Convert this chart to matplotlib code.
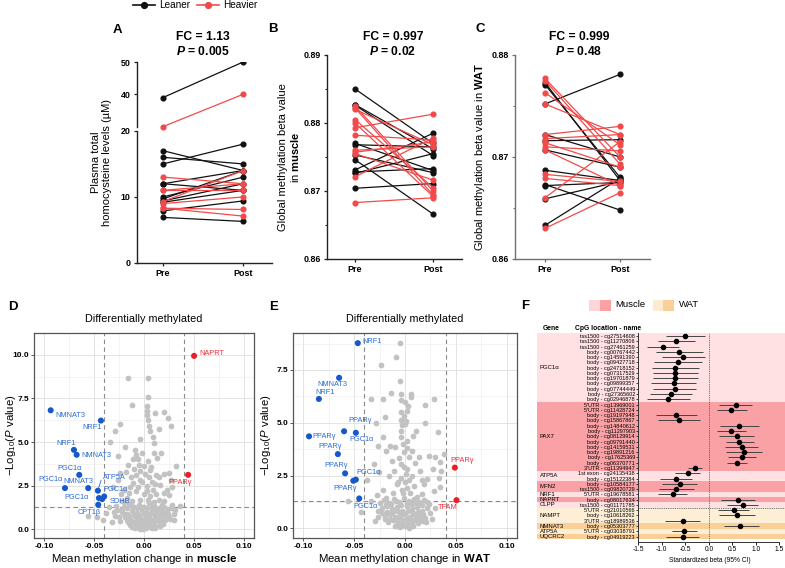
import numpy as np
import matplotlib
matplotlib.use('Agg')
import matplotlib.pyplot as plt
from matplotlib.lines import Line2D
from matplotlib.patches import Rectangle
from matplotlib.transforms import blended_transform_factory

plt.rcParams['font.family'] = ['Liberation Sans', 'DejaVu Sans']
plt.rcParams['mathtext.fontset'] = 'custom'
plt.rcParams['mathtext.rm'] = 'Liberation Sans'
plt.rcParams['mathtext.it'] = 'Liberation Sans:italic'
plt.rcParams['mathtext.bf'] = 'Liberation Sans:bold'
plt.rcParams['mathtext.bfit'] = 'Liberation Sans:italic:bold'

# ---------------- data ----------------
# A: plasma total homocysteine (uM), paired pre/post
hcy_lean_pre = [39, 17, 16, 15, 12, 12, 10, 9.7, 9.4, 9.2, 7.9, 6.9]
hcy_lean_post = [50, 14, 15, 18, 14, 11, 13, 14, 12, 11, 9.4, 6.3]
hcy_heavy_pre = [30, 13, 11, 11, 9.3, 9.0, 8.3, 8.3]
hcy_heavy_post = [40, 12, 12, 11, 14, 10, 8.1, 7.1]

# B: global methylation in muscle
mus_lean_pre = [0.8850, 0.8827, 0.8826, 0.8770, 0.8768, 0.8753, 0.8746, 0.8731, 0.8728, 0.8726, 0.8704]
mus_lean_post = [0.8770, 0.8762, 0.8752, 0.8730, 0.8765, 0.8727, 0.8666, 0.8785, 0.8733, 0.8755, 0.8711]
mus_heavy_pre = [0.8825, 0.8822, 0.8820, 0.8805, 0.8800, 0.8793, 0.8782, 0.8760, 0.8757, 0.8755, 0.8721, 0.8683]
mus_heavy_post = [0.8700, 0.8694, 0.8768, 0.8705, 0.8692, 0.8813, 0.8775, 0.8765, 0.8772, 0.8716, 0.8778, 0.8690]

# C: global methylation in WAT
wat_lean_pre = [0.8752, 0.8773, 0.8771, 0.8722, 0.8716, 0.8707, 0.8687, 0.8673, 0.8672, 0.8659, 0.8633]
wat_lean_post = [0.8781, 0.8677, 0.8680, 0.8700, 0.8717, 0.8690, 0.8677, 0.8648, 0.8675, 0.8676, 0.8679]
wat_heavy_pre = [0.8777, 0.8775, 0.8763, 0.8752, 0.8722, 0.8718, 0.8714, 0.8710, 0.8707, 0.8683, 0.8679, 0.8660, 0.8630]
wat_heavy_post = [0.8700, 0.8693, 0.8712, 0.8722, 0.8730, 0.8722, 0.8690, 0.8706, 0.8672, 0.8676, 0.8672, 0.8715, 0.8665]

# D: volcano muscle (mean change, -log10 P)
d_other = np.array([
    (-0.0166, 8.66), (0.0034, 8.66), (0.0034, 7.59), (-0.0123, 7.12), (0.0024, 7.08),
    (0.0027, 6.80), (0.0030, 6.55), (0.0107, 6.68), (0.0197, 6.73), (0.0240, 6.37),
    (0.0264, 5.93), (-0.0237, 6.02), (-0.0287, 5.61), (0.0040, 6.25), (0.0047, 5.93),
    (0.0060, 5.66), (0.0149, 5.75), (-0.0343, 5.00), (-0.0090, 4.55), (-0.0260, 4.20),
    (0.0097, 4.96), (0.0097, 4.40), (-0.0083, 4.27), (-0.0063, 4.02), (-0.0160, 3.70),
    (0.0197, 3.16), (0.0323, 3.60), (0.0264, 2.80), (-0.0183, 3.30), (-0.0103, 3.45),
    (-0.0043, 3.35), (0.0007, 3.15), (0.0057, 3.40), (-0.0260, 2.80), (-0.0310, 2.43),
    (-0.0200, 2.27), (-0.0110, 2.65), (-0.0043, 2.85), (0.0024, 2.50), (0.0090, 2.27),
    (0.0157, 2.55), (0.0224, 2.27), (-0.0220, 1.62), (-0.0283, 1.35), (-0.0350, 1.25),
    (0.0197, 1.62), (0.0247, 1.98), (0.0357, 1.36), (0.0310, 1.10), (0.0167, 1.19),
    (-0.0560, 0.78), (-0.0477, 0.69), (-0.0410, 0.51), (-0.0383, 0.96), (-0.0150, 2.10),
    (-0.0080, 2.20), (0.0000, 2.00), (0.0060, 1.90), (0.0120, 2.00), (-0.0170, 1.80),
    (0.0150, 1.70), (-0.0130, 3.00), (0.0120, 3.10), (-0.0050, 3.70), (0.0000, 3.60),
    (0.0040, 3.90), (-0.0020, 4.40), (0.0070, 3.55), (0.0080, 2.70), (-0.0060, 2.40),
    (0.0030, 2.20), (0.0280, 2.40), (0.0280, 1.40), (0.0230, 1.05), (-0.0300, 1.00),
    (-0.0250, 0.70), (-0.0320, 0.40), (0.0260, 0.60), (0.0300, 0.90), (0.0165, 4.35),
    (-0.020, 1.30), (-0.015, 1.45), (-0.010, 1.25), (-0.005, 1.40), (0.000, 1.30),
    (0.005, 1.50), (0.010, 1.35), (0.015, 1.20), (0.020, 1.30), (-0.022, 1.00),
    (-0.017, 0.90), (-0.012, 1.05), (-0.007, 0.95), (-0.002, 1.10), (0.003, 0.95),
    (0.008, 1.05), (0.013, 0.90), (0.018, 1.00), (-0.019, 0.70), (-0.014, 0.60),
    (-0.009, 0.75), (-0.004, 0.65), (0.001, 0.80), (0.006, 0.60), (0.011, 0.70),
    (0.016, 0.65), (0.021, 0.55), (-0.016, 0.40), (-0.011, 0.35), (-0.006, 0.45),
    (-0.001, 0.30), (0.004, 0.40), (0.009, 0.35), (0.014, 0.45), (0.019, 0.30),
    (-0.012, 0.15), (-0.007, 0.20), (-0.002, 0.10), (0.002, 0.05), (0.006, 0.15),
    (0.011, 0.20), (-0.004, 0.02), (0.000, 0.25), (0.008, 0.05), (-0.009, 0.05),
    (-0.012, 1.60), (-0.004, 1.70), (0.004, 1.65), (0.010, 1.55), (-0.020, 1.55),
    (0.000, 0.55), (-0.024, 0.45), (0.024, 0.85),
    (-0.0225, 1.15), (-0.0175, 1.20), (-0.0125, 1.35), (-0.0075, 1.20), (-0.0025, 1.25),
    (0.0025, 1.20), (0.0075, 1.25), (0.0125, 1.10), (0.0175, 1.40), (0.0225, 1.15),
    (-0.0205, 0.85), (-0.0155, 0.75), (-0.0105, 0.90), (-0.0055, 0.80), (-0.0005, 0.95),
    (0.0045, 0.80), (0.0095, 0.85), (0.0145, 0.75), (0.0195, 0.80), (0.0245, 0.70),
    (-0.0175, 0.55), (-0.0125, 0.50), (-0.0075, 0.55), (-0.0025, 0.50), (0.0025, 0.60),
    (0.0075, 0.50), (0.0125, 0.55), (0.0175, 0.45), (-0.0145, 0.25), (-0.0095, 0.25),
    (-0.0045, 0.20), (0.0005, 0.40), (0.0055, 0.25), (0.0105, 0.10), (0.0155, 0.20),
    (-0.0015, 0.02), (0.0025, 0.15), (-0.0270, 1.10), (0.0270, 1.20), (-0.0290, 0.75),
    (0.0300, 0.55), (-0.0230, 2.00), (0.0200, 2.10), (-0.0140, 2.40), (0.0110, 2.60),
    (-0.0020, 2.70), (0.0050, 3.00), (-0.0080, 3.10), (0.0150, 3.00), (-0.0240, 3.20),
    (0.0250, 3.25), (-0.0110, 4.00), (0.0130, 4.10), (-0.0190, 4.70), (0.0090, 5.30),
    (-0.0040, 5.20),
])
d_hit_x = [-0.0936, -0.0433, -0.0703, -0.0676, -0.0650, -0.0793, -0.0560,
           -0.0463, -0.0453, -0.0400, -0.0420, -0.0460, 0.0500, 0.0440]
d_hit_y = [6.82, 6.23, 4.55, 4.27, 3.12, 2.36, 2.36, 2.21, 1.79, 1.88, 1.73, 1.41, 9.94, 3.12]
d_hit_gene = ['NMNAT3', 'NRF1', 'NRF1', 'NMNAT3', 'PGC1α', 'PGC1α', 'NMNAT3',
              'ATP5A', 'PGC1α', 'PGC1α', 'SDHB', 'CPT1β', 'NAPRT', 'PPARγ']
d_hit_up = [False] * 12 + [True, True]
d_lab_pos = [(-0.0738, 6.52), (-0.0517, 5.84), (-0.0783, 4.94), (-0.0477, 4.23),
             (-0.0750, 3.48), (-0.0936, 2.86), (-0.0656, 2.75), (-0.0300, 2.98),
             (-0.0676, 1.80), (-0.0290, 2.27), (-0.0243, 1.59), (-0.0550, 0.98),
             (0.0674, 10.07), (0.0357, 2.69)]

# E: volcano WAT
e_other = np.array([
    (-0.0048, 8.77), (-0.0090, 8.13), (-0.0235, 7.75), (-0.0048, 6.97), (-0.0139, 6.42),
    (-0.0338, 6.13), (-0.0219, 6.13), (-0.0035, 6.37), (0.0055, 6.37), (-0.0035, 6.06),
    (0.0055, 6.20), (0.0281, 6.13), (0.0200, 5.86), (-0.0197, 5.26), (-0.0284, 4.98),
    (-0.0042, 5.50), (-0.0010, 5.30), (0.0020, 5.55), (-0.0042, 5.15), (0.0000, 4.95),
    (0.0110, 4.63), (0.0200, 4.98), (0.0329, 4.55), (-0.0219, 4.32), (-0.0042, 4.63),
    (-0.0042, 4.32), (0.0023, 4.16), (-0.0100, 3.85), (-0.0150, 3.92), (-0.0268, 3.92),
    (-0.0187, 3.68), (0.0071, 3.68), (0.0136, 3.36), (0.0232, 3.44), (0.0297, 3.40),
    (0.0345, 3.13), (0.0275, 2.83), (0.0384, 3.52), (0.0355, 2.73), (-0.0307, 3.05),
    (-0.0252, 2.66), (-0.0155, 2.50), (-0.0106, 2.73), (-0.0042, 3.05), (0.0023, 2.83),
    (0.0071, 2.50), (0.0152, 2.73), (0.0216, 2.34), (-0.0371, 2.29), (-0.0564, 1.28),
    (-0.0429, 0.76), (-0.0300, 0.37), (-0.0268, 0.84), (0.0281, 1.78), (0.0345, 1.95),
    (0.0232, 1.18), (0.0297, 0.95), (0.0168, 1.65), (-0.0187, 1.42), (-0.0122, 1.66),
    (-0.0219, 1.82), (-0.0080, 2.10), (0.0000, 2.20), (0.0090, 2.00), (-0.0030, 1.80),
    (0.0050, 1.70), (0.0120, 1.50), (0.0000, 6.00), (0.0030, 5.80), (-0.0020, 4.00),
    (0.0040, 3.40), (-0.0060, 3.35), (0.0080, 4.40), (0.0330, 2.40), (0.0190, 2.10),
    (-0.0330, 1.30), (-0.0280, 1.60),
    (-0.021, 1.35), (-0.016, 1.20), (-0.011, 1.40), (-0.006, 1.25), (-0.001, 1.45),
    (0.004, 1.30), (0.009, 1.40), (0.014, 1.25), (0.019, 1.35), (-0.023, 0.95),
    (-0.018, 1.05), (-0.013, 0.90), (-0.008, 1.00), (-0.003, 0.85), (0.002, 1.05),
    (0.007, 0.90), (0.012, 1.00), (0.017, 0.85), (0.022, 0.95), (-0.020, 0.60),
    (-0.015, 0.70), (-0.010, 0.55), (-0.005, 0.65), (0.000, 0.70), (0.005, 0.55),
    (0.010, 0.65), (0.015, 0.60), (0.020, 0.50), (-0.017, 0.30), (-0.012, 0.40),
    (-0.007, 0.25), (-0.002, 0.40), (0.003, 0.30), (0.008, 0.35), (0.013, 0.25),
    (0.018, 0.35), (-0.010, 0.10), (-0.005, 0.05), (0.000, 0.12), (0.004, 0.03),
    (0.008, 0.12), (-0.002, 1.70), (0.002, 1.90), (-0.004, 2.40), (0.001, 2.60),
    (-0.0185, 1.10), (-0.0135, 1.15), (-0.0085, 1.30), (-0.0035, 1.10), (0.0015, 1.20),
    (0.0065, 1.15), (0.0115, 1.20), (0.0165, 1.10), (0.0215, 1.25), (-0.0245, 1.20),
    (-0.0175, 0.80), (-0.0125, 0.75), (-0.0075, 0.85), (-0.0025, 0.70), (0.0025, 0.85),
    (0.0075, 0.75), (0.0125, 0.80), (0.0175, 0.70), (0.0245, 0.75), (-0.0225, 0.75),
    (-0.0145, 0.45), (-0.0095, 0.40), (-0.0045, 0.50), (0.0005, 0.45), (0.0055, 0.40),
    (0.0105, 0.45), (0.0155, 0.40), (-0.0195, 0.45), (0.0205, 0.30), (-0.0075, 0.10),
    (-0.0025, 0.20), (0.0025, 0.15), (0.0065, 0.25), (-0.0270, 0.55), (0.0270, 0.45),
    (-0.0010, 3.60), (0.0020, 3.80), (-0.0030, 4.90), (0.0010, 5.10), (-0.0010, 2.90),
    (0.0040, 2.30), (-0.0070, 2.20), (0.0100, 3.10), (-0.0130, 3.20), (0.0170, 2.30),
])
e_hit_x = [-0.0465, -0.0649, -0.0848, -0.0600, -0.0484, -0.0945, -0.0661,
           -0.0590, -0.0484, -0.0509, -0.0451, 0.0491, 0.0507]
e_hit_y = [8.77, 7.13, 6.13, 4.60, 4.53, 4.36, 3.52, 2.61, 2.31, 2.26, 1.42, 2.88, 1.34]
e_hit_gene = ['NRF1', 'NMNAT3', 'NRF1', 'PPARγ', 'PGC1α', 'PPARγ', 'PPARγ',
              'PPARγ', 'PGC1α', 'PPARγ', 'PGC1α', 'PPARγ', 'TFAM']
e_hit_up = [False] * 11 + [True, True]
e_lab_pos = [(-0.0325, 8.87), (-0.0713, 6.81), (-0.0784, 6.45), (-0.0442, 5.11),
             (-0.0429, 4.19), (-0.0800, 4.36), (-0.0742, 3.87), (-0.0674, 3.00),
             (-0.0354, 2.64), (-0.0590, 1.89), (-0.0390, 1.02), (0.0565, 3.22),
             (0.0416, 0.97)]

# F: forest plot
f_genes = ['PGC1α', 'PAX7', 'ATP5A', 'MFN2', 'NRF1', 'NAPRT', 'CLPP',
           'NAMPT', 'NMNAT3', 'ATP5A', 'UQCRC2']
f_gene_rows = [13, 13, 2, 2, 1, 1, 1, 3, 1, 1, 1]
f_gene_tissue = ['Muscle'] * 7 + ['WAT'] * 4
f_cpg = [
    'tss1500 - cg27514608', 'tss1500 - cg11270806', 'tss1500 - cg27461259',
    'body - cg00767442', 'body - cg14591390', 'body - cg09427718', 'body - cg24718152',
    'body - cg07317529', 'body - cg19701879', 'body - cg09899357', 'body - cg07744449',
    'body - cg27365602', 'body - cg02946878',
    "5'UTR - cg13969001", "5'UTR - cg11428724", 'body - cg19197948', 'body - cg15867867',
    'body - cg14840612', 'body - cg11297903', 'body - cg08129914', 'body - cg09791440',
    'body - cg14159531', 'body - cg19891216', 'body - cg17625369', 'body - cg06370771',
    "3'UTR - cg11394947",
    '1st exon - cg24135438', 'body - cg15122384',
    'body - cg10584177', 'tss1500 - cg09820729',
    "5'UTR - cg19678581",
    'body - cg08017634',
    'tss1500 - cg01171785',
    "5'UTR - cg21010566", 'body - cg10618262', "3'UTR - cg18989536",
    'body - cg05303777',
    "5'UTR - cg03038791",
    'body - cg04919223',
]
f_beta = [-0.51, -0.70, -0.98, -0.63, -0.55, -0.65, -0.71, -0.71, -0.71, -0.75, -0.72, -0.81, -0.87,
          0.57, 0.48, -0.70, -0.64, 0.64, 0.47, 0.60, 0.64, 0.70, 0.75, 0.71, 0.60, -0.30,
          -0.45, -0.70, -0.62, -0.70, -0.77, 0.61, 0.72,
          0.53, 0.60, -0.55, 0.67, -0.52, -0.55]
f_lo = [-0.92, -1.08, -1.31, -1.13, -0.99, -1.17, -1.21, -1.19, -1.19, -1.22, -1.18, -1.26, -1.31,
        0.21, 0.18, -1.13, -1.08, 0.23, 0.18, 0.21, 0.37, 0.35, 0.37, 0.40, 0.39, -0.44,
        -0.71, -1.03, -0.99, -1.06, -1.08, 0.25, 0.39,
        0.20, 0.21, -0.94, 0.32, -0.78, -0.92]
f_hi = [-0.09, -0.30, -0.64, -0.13, -0.09, -0.14, -0.21, -0.23, -0.23, -0.27, -0.27, -0.35, -0.41,
        0.92, 0.82, -0.25, -0.18, 1.06, 0.78, 0.96, 0.96, 1.05, 1.13, 1.01, 0.82, -0.14,
        -0.18, -0.35, -0.25, -0.32, -0.46, 0.98, 1.05,
        0.85, 0.98, -0.18, 1.06, -0.25, -0.21]

# ---------------- layout helpers ----------------
W, H = 785, 568
BLACK = '#111111'
RED = '#f24a4a'
BLUE_PT = '#1558c9'
BLUE_TX = '#2b6bd8'
RED_PT = '#ee1c25'
GREY_PT = '#c2c2c2'


def px_rect(l, t, r, b):
    return [l / W, 1 - b / H, (r - l) / W, (b - t) / H]


def fx(x):
    return x / W


def fy(y):
    return 1 - y / H


fig = plt.figure(figsize=(W / 100, H / 100), dpi=100)


def bold_ticks(ax):
    for lbl in ax.get_xticklabels() + ax.get_yticklabels():
        lbl.set_fontweight('bold')


def paired(ax, lp, lq, hp, hq, xlim, spine_col):
    for a, b in zip(lp, lq):
        ax.plot([0, 1], [a, b], color=BLACK, lw=0.9, marker='o', ms=3.4, zorder=3)
    for a, b in zip(hp, hq):
        ax.plot([0, 1], [a, b], color=RED, lw=0.9, marker='o', ms=3.4, zorder=3)
    ax.set_xlim(*xlim)
    ax.set_xticks([0, 1], ['Pre', 'Post'])
    ax.spines[['top', 'right']].set_visible(False)
    for s in ('left', 'bottom'):
        ax.spines[s].set_color(spine_col)
        ax.spines[s].set_linewidth(1.0)
    ax.tick_params(labelsize=6.4, length=2.5, width=0.9, color=spine_col, pad=2)
    ax.tick_params(which='minor', length=1.8, width=0.8, color=spine_col)
    ax.patch.set_alpha(0)


# ---------------- A ----------------
def brk_fwd(y):
    y = np.asarray(y, dtype=float)
    return np.where(y <= 20, y, np.where(y <= 30, 20 + (y - 20) * 0.065, 20.65 + (y - 30) * 0.489))


def brk_inv(t):
    t = np.asarray(t, dtype=float)
    return np.where(t <= 20, t, np.where(t <= 20.65, 20 + (t - 20) / 0.065, 30 + (t - 20.65) / 0.489))


axA = fig.add_axes(px_rect(137, 62, 272, 263))
axA.set_yscale('function', functions=(brk_fwd, brk_inv))
axA.set_ylim(0, 50)
paired(axA, hcy_lean_pre, hcy_lean_post, hcy_heavy_pre, hcy_heavy_post, (-0.325, 1.36), '#222222')
axA.set_yticks([0, 10, 20, 40, 50], ['0', '10', '20', '40', '50'])
axA.yaxis.set_minor_locator(matplotlib.ticker.NullLocator())
axA.spines['left'].set_bounds(0, 20)
axA.plot([0, 0], [30, 50], transform=axA.get_yaxis_transform(), color='#222222', lw=1.0, clip_on=False)
axA.set_ylabel('Plasma total\nhomocysteine levels (µM)', fontsize=8, linespacing=1.1)
axA.yaxis.set_label_coords(-0.185, 0.5)
bold_ticks(axA)

# ---------------- B ----------------
axB = fig.add_axes(px_rect(327, 55, 462, 259))
paired(axB, mus_lean_pre, mus_lean_post, mus_heavy_pre, mus_heavy_post, (-0.36, 1.37), '#222222')
axB.set_ylim(0.86, 0.89)
axB.set_yticks([0.86, 0.87, 0.88, 0.89], ['0.86', '0.87', '0.88', '0.89'])
axB.set_yticks([0.865, 0.875, 0.885], minor=True)
axB.set_ylabel('Global methylation beta value\nin $\\mathbf{muscle}$', fontsize=8, linespacing=1.1)
axB.yaxis.set_label_coords(-0.19, 0.5)
bold_ticks(axB)

# ---------------- C ----------------
axC = fig.add_axes(px_rect(515, 55, 650, 259))
paired(axC, wat_lean_pre, wat_lean_post, wat_heavy_pre, wat_heavy_post, (-0.4, 1.4), '#707070')
axC.set_ylim(0.86, 0.88)
axC.set_yticks([0.86, 0.87, 0.88], ['0.86', '0.87', '0.88'])
axC.set_yticks([0.865, 0.875], minor=True)
axC.set_ylabel('Global methylation beta value in $\\mathbf{WAT}$', fontsize=8)
axC.yaxis.set_label_coords(-0.205, 0.5)
bold_ticks(axC)

for xc, fc, p in [(203, '1.13', '0.005'), (393, '0.997', '0.02'), (579, '0.999', '0.48')]:
    fig.text(fx(xc), fy(37.5), 'FC = ' + fc, ha='center', va='center', fontsize=8.7, fontweight='bold')
    fig.text(fx(xc), fy(51.5), '$\\mathbfit{P}$ = ' + p, ha='center', va='center', fontsize=8.7,
             fontweight='bold')

for lab, xl, yl in [('A', 117, 30), ('B', 273, 29), ('C', 480, 29), ('D', 13, 307), ('E', 274, 307),
                    ('F', 525, 306)]:
    fig.text(fx(xl), fy(yl), lab, ha='center', va='center', fontsize=9.5, fontweight='bold')

handles = [Line2D([], [], color=BLACK, marker='o', ms=4.2, lw=1.2),
           Line2D([], [], color=RED, marker='o', ms=4.2, lw=1.2)]
fig.legend(handles, ['Leaner', 'Heavier'], loc='center', bbox_to_anchor=(fx(195), fy(5.5)), ncol=2,
           frameon=False, fontsize=7.2, handlelength=2.2, handletextpad=0.4, columnspacing=0.7,
           borderaxespad=0, borderpad=0)


# ---------------- D / E volcano ----------------
def volcano(ax, other, hx, hy, hgene, hup, labpos, ylim, yticks, tissue, xlab_y, ylab_x):
    ax.set_xlim(-0.11, 0.11)
    ax.set_ylim(*ylim)
    ax.set_xticks([-0.10, -0.05, 0.0, 0.05, 0.10], ['-0.10', '-0.05', '0.00', '0.05', '0.10'])
    ax.set_xticks([-0.075, -0.025, 0.025, 0.075], minor=True)
    ax.set_yticks(yticks, ['%.1f' % v for v in yticks])
    ax.set_yticks([v + 1.25 for v in yticks], minor=True)
    ax.grid(which='major', color='#e3e3e3', lw=0.7)
    ax.grid(which='minor', color='#efefef', lw=0.45)
    ax.set_axisbelow(True)
    for s in ax.spines.values():
        s.set_color('#555555')
        s.set_linewidth(0.9)
    ax.tick_params(labelsize=6.0, length=2.2, width=0.7, color='#555555', pad=1.5)
    ax.tick_params(which='minor', length=0)
    ax.scatter(other[:, 0], other[:, 1], s=17, color=GREY_PT, lw=0, zorder=2)
    for xv in (-0.04, 0.04):
        ax.axvline(xv, color='#8a8a8a', lw=0.8, ls=(0, (4, 3)), zorder=1.5)
    ax.axhline(-np.log10(0.05), color='#8a8a8a', lw=0.8, ls=(0, (4, 3)), zorder=1.5)
    cols = [RED_PT if u else BLUE_PT for u in hup]
    ax.scatter(hx, hy, s=19, color=cols, lw=0, zorder=4)
    for g, u, (lx, ly) in zip(hgene, hup, labpos):
        ax.text(lx, ly, g, color=('#f0303a' if u else BLUE_TX), fontsize=5.3, ha='center', va='center',
                zorder=5)
    ax.text(0.5, 1.067, 'Differentially methylated', transform=ax.transAxes, ha='center', va='center',
            fontsize=7.8)
    ax.set_xlabel('Mean methylation change in $\\mathbf{%s}$' % tissue, fontsize=8.2)
    ax.xaxis.set_label_coords(0.5, xlab_y)
    ax.set_ylabel('$-$Log$_{10}$($\\mathit{P}$ value)', fontsize=8.2)
    ax.yaxis.set_label_coords(ylab_x, 0.5)
    bold_ticks(ax)


axD = fig.add_axes(px_rect(34.3, 333, 254, 538))
volcano(axD, d_other, d_hit_x, d_hit_y, d_hit_gene, d_hit_up, d_lab_pos, (-0.5, 10.5),
        [0.0, 2.5, 5.0, 7.5, 10.0], 'muscle', -0.068, -0.074)
axD.plot([-0.0458, -0.0432], [2.33, 2.80], color=BLUE_TX, lw=0.6, zorder=5)

axE = fig.add_axes(px_rect(293.3, 333, 516.7, 538))
volcano(axE, e_other, e_hit_x, e_hit_y, e_hit_gene, e_hit_up, e_lab_pos, (-0.45, 9.25),
        [0.0, 2.5, 5.0, 7.5], 'WAT', -0.068, -0.091)

# ---------------- F forest ----------------
band_col = {('Muscle', 0): '#ffe1e4', ('Muscle', 1): '#f9a1a4',
            ('WAT', 0): '#fdefd6', ('WAT', 1): '#fbcf98'}
axF = fig.add_axes(px_rect(638.3, 333.3, 785, 541.6))
n = len(f_cpg)
rows = np.arange(n)
axF.set_xlim(-1.5, 1.62)
axF.set_ylim(n - 0.05, -0.5)
blend = blended_transform_factory(axF.transAxes, axF.transData)
x0 = (537 - 638.3) / (785 - 638.3)
start = 0
for i, (g, k, t) in enumerate(zip(f_genes, f_gene_rows, f_gene_tissue)):
    shade = 0 if (i if t == 'Muscle' else i - 7) % 2 == 0 else 1
    axF.add_patch(Rectangle((x0, start - 0.5), 1 - x0, k, transform=blend, color=band_col[(t, shade)],
                            lw=0, zorder=0, clip_on=False))
    axF.text(x0 + 0.02, start + (k - 1) / 2, g, transform=blend, fontsize=4.3, ha='left', va='center')
    start += k

axF.hlines(rows, f_lo, f_hi, color='#444444', lw=0.7, zorder=2)
axF.plot(f_beta, rows, 'o', color='black', ms=3.0, zorder=3)
axF.axvline(0, color='#444444', lw=0.6, ls=(0, (1, 1.2)), zorder=1)
axF.axhline(32.5, color='#444444', lw=0.6, ls=(0, (1, 1.2)), zorder=1)
axF.set_yticks(rows, f_cpg)
axF.set_xticks([-1.5, -1.0, -0.5, 0.0, 0.5, 1.0, 1.5],
               ['-1.5', '-1.0', '-0.5', '0.0', '0.5', '1.0', '1.5'])
axF.tick_params(axis='y', labelsize=4.0, length=1.5, width=0.5, pad=1)
axF.tick_params(axis='x', labelsize=4.8, length=2, width=0.6, pad=1.5)
axF.spines[['top', 'right']].set_visible(False)
axF.spines['bottom'].set_bounds(-1.5, 1.5)
for s in ('left', 'bottom'):
    axF.spines[s].set_linewidth(0.7)
    axF.spines[s].set_color('#333333')
axF.patch.set_alpha(0)

fig.text(fx(551), fy(328), 'Gene', fontsize=4.9, fontweight='bold', ha='center', va='center')
fig.text(fx(608), fy(328), 'CpG location - name', fontsize=4.9, fontweight='bold', ha='center', va='center')
fig.text(fx(710), fy(560), 'Standardized beta (95% CI)', fontsize=4.8, ha='center', va='center')

# F legend
for (l, r, c) in [(589.3, 600, '#fdd6da'), (600, 610.7, '#f9a1a4'),
                  (652.7, 663.3, '#fdebcf'), (663.3, 674, '#fbcf98')]:
    fig.add_artist(Rectangle((fx(l), fy(310.7)), (r - l) / W, 10.7 / H, transform=fig.transFigure,
                             color=c, lw=0))
fig.text(fx(615.5), fy(304.5), 'Muscle', fontsize=6.8, ha='left', va='center')
fig.text(fx(678.5), fy(304.5), 'WAT', fontsize=6.8, ha='left', va='center')

fig.savefig('out.png', dpi=100)
